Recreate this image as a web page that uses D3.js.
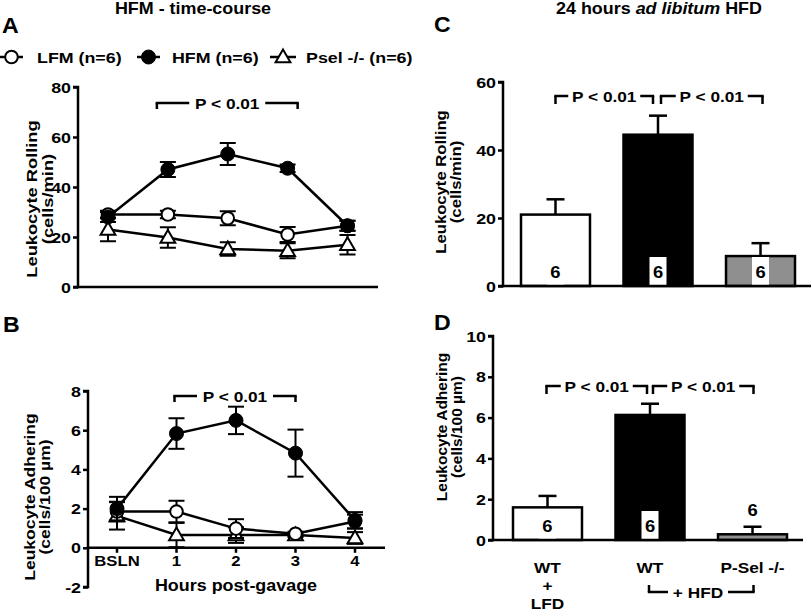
<!DOCTYPE html>
<html><head><meta charset="utf-8">
<script src="https://cdn.jsdelivr.net/npm/d3@7"></script>
<style>
html,body{margin:0;padding:0;background:#fff;}
svg text{font-family:"Liberation Sans",Arial,Helvetica,sans-serif;font-weight:bold;fill:#000;}
</style></head>
<body>
<svg id="chart" width="812" height="614"></svg>
<script>
// ---------- DATA ----------
const timeCats = ["BSLN", "1", "2", "3", "4"];
const lfmRolling = [29, 29, 27.5, 21, 24.5];
const lfmRollingErr = [1.5, 1.5, 2.8, 3, 2];
const hfmRolling = [28, 47, 53.2, 47.5, 24.5];
const hfmRollingErr = [2, 3, 4.4, 1.5, 2];
const pselRolling = [23, 19.8, 15.2, 14.5, 16.9];
const pselRollingErr = [4.7, 4.1, 2.7, 3, 3.9];

const lfmAdh = [1.85, 1.85, 0.98, 0.72, 1.34];
const lfmAdhErr = [0.5, 0.55, 0.48, 0.1, 0.35];
const hfmAdh = [2.0, 5.83, 6.5, 4.83, 1.4];
const hfmAdhErr = [0.6, 0.78, 0.7, 1.2, 0.42];
const pselAdh = [1.63, 0.65, 0.65, 0.65, 0.5];
const pselAdhErr = [0.7, 0.62, 0.4, 0.1, 0.3];

const barCats = ["WT+LFD", "WT+HFD", "P-Sel-/-+HFD"];
const barRolling = [21, 44.5, 8.8];
const barRollingErr = [4.5, 5.6, 3.8];
const barAdh = [1.6, 6.13, 0.28];
const barAdhErr = [0.56, 0.55, 0.37];
const barN = [6, 6, 6];
const barFills = ["#ffffff", "#000000", "#8f8f8f"];

const ticksA = [0, 20, 40, 60, 80];
const ticksB = [-2, 0, 2, 4, 6, 8];
const ticksC = [0, 20, 40, 60];
const ticksD = [0, 2, 4, 6, 8, 10];

const legendLabels = ["LFM (n=6)", "HFM (n=6)", "Psel -/- (n=6)"];

// ---------- HELPERS ----------
const svg = d3.select("#chart");
const SX = 1.15;
function txt(g, x, y, s, size, anchor, sx) {
  return g.append("text")
    .attr("transform", `translate(${x},${y}) scale(${sx === undefined ? SX : sx},1)`)
    .attr("text-anchor", anchor || "middle")
    .style("font-size", size + "px")
    .text(s);
}
function vlabel(g, x1, x2, yc, l1, l2, size, sx) {
  g.append("text").attr("transform", `translate(${x1},${yc}) rotate(-90) scale(${sx},1)`)
    .attr("text-anchor", "middle").style("font-size", size + "px").text(l1);
  g.append("text").attr("transform", `translate(${x2},${yc}) rotate(-90) scale(${sx},1)`)
    .attr("text-anchor", "middle").style("font-size", size + "px").text(l2);
}
function yAxis(g, x, y, ticks) {
  const ax = g.append("g").attr("transform", `translate(${x},0)`)
    .call(d3.axisLeft(y).tickValues(ticks).tickSize(5).tickPadding(3).tickFormat(d3.format("d")));
  ax.selectAll("path,line").attr("stroke", "#000").attr("stroke-width", 2.5);
  ax.select("path").attr("d", `M-5,${y(ticks[ticks.length-1])}H0V${y(ticks[0])}H-5`);
  ax.selectAll("text").remove();
  ticks.forEach(t => txt(g, x - 7, y(t) + 5.5, String(t), 15.5, "end"));
  return ax;
}
function line(g, x1, y1, x2, y2, w) {
  g.append("line").attr("x1", x1).attr("y1", y1).attr("x2", x2).attr("y2", y2)
    .attr("stroke", "#000").attr("stroke-width", w || 2.5);
}
function bracket(g, xa, xb, y, drop, label, size, gap) {
  const cx = (xa + xb) / 2;
  const hw = gap;
  line(g, xa, y + drop, xa, y); line(g, xa - 1.2, y, cx - hw, y);
  line(g, cx + hw, y, xb + 1.2, y); line(g, xb, y, xb, y + drop);
  txt(g, cx, y + 5.5, label, size, "middle");
}

const triangle = d3.symbol().type(d3.symbolTriangle).size(95);

function markers(g, kind, x, y) {
  if (kind === "open") {
    g.append("circle").attr("cx", x).attr("cy", y).attr("r", 6.3)
      .attr("fill", "#fff").attr("stroke", "#000").attr("stroke-width", 2);
  } else if (kind === "filled") {
    g.append("circle").attr("cx", x).attr("cy", y).attr("r", 7)
      .attr("fill", "#000").attr("stroke", "#000").attr("stroke-width", 1);
  } else {
    g.append("path").attr("d", triangle).attr("transform", `translate(${x},${y + 1})`)
      .attr("fill", "#fff").attr("stroke", "#000").attr("stroke-width", 2);
  }
}

function timeSeries(g, x, y, vals, errs, kind) {
  const ln = d3.line().x((d, i) => x(timeCats[i])).y(d => y(d));
  g.append("path").attr("d", ln(vals)).attr("fill", "none")
    .attr("stroke", "#000").attr("stroke-width", 2.5);
  vals.forEach((v, i) => {
    const cx = x(timeCats[i]);
    const t = y(v + errs[i]), b = y(v - errs[i]);
    line(g, cx, t, cx, b, 2);
    line(g, cx - 8, t, cx + 8, t, 2);
    line(g, cx - 8, b, cx + 8, b, 2);
  });
  vals.forEach((v, i) => markers(g, kind, x(timeCats[i]), y(v)));
}

// ---------- TITLES & PANEL LETTERS ----------
txt(svg, 193, 14, "HFM - time-course", 16, "middle", 1.12);
const t2 = svg.append("text").attr("transform", `translate(659,14) scale(1.12,1)`)
  .attr("text-anchor", "middle").style("font-size", "16px");
t2.append("tspan").text("24 hours ");
t2.append("tspan").style("font-style", "italic").text("ad libitum");
t2.append("tspan").text(" HFD");
txt(svg, 2, 33, "A", 22, "start", 1.05);
txt(svg, 3, 332, "B", 22, "start", 1.05);
txt(svg, 434, 32, "C", 22, "start", 1.05);
txt(svg, 434, 330, "D", 22, "start", 1.05);

// ---------- LEGEND ----------
const lg = svg.append("g");
[["open", 0, 23, 37], ["filled", 137, 160, 172], ["tri", 270, 296, 306]].forEach((d, i) => {
  line(lg, d[1], 57, d[2], 57, 2.5);
  markers(lg, d[0], (d[1] + d[2]) / 2, 57);
  txt(lg, d[3], 62.5, legendLabels[i], 15.5, "start");
});

// ---------- PANEL A ----------
const gA = svg.append("g");
const xA = d3.scalePoint().domain(timeCats).range([108, 347.5]);
const yA = d3.scaleLinear().domain([0, 80]).range([287, 87]);
yAxis(gA, 78, yA, ticksA);
line(gA, 76.8, yA(0), 378, yA(0));
vlabel(gA, 37, 53, 199, "Leukocyte Rolling", "(cells/min)", 15.5, 1.18);
timeSeries(gA, xA, yA, pselRolling, pselRollingErr, "tri");
timeSeries(gA, xA, yA, lfmRolling, lfmRollingErr, "open");
timeSeries(gA, xA, yA, hfmRolling, hfmRollingErr, "filled");
bracket(gA, xA("1") - 11, xA("3") + 10, 103, 6, "P < 0.01", 15, 38);

// ---------- PANEL B ----------
const gB = svg.append("g");
const xB = d3.scalePoint().domain(timeCats).range([117, 355]);
const yB = d3.scaleLinear().domain([-2, 8]).range([587, 391]);
yAxis(gB, 88, yB, ticksB);
line(gB, 86.8, yB(0), 385, yB(0));
timeCats.forEach(c => { line(gB, xB(c), yB(0), xB(c), yB(0) + 5); txt(gB, xB(c), 566, c, 14.5, "middle"); });
txt(gB, 236, 591, "Hours post-gavage", 16, "middle", 1.12);
vlabel(gB, 35, 50, 497, "Leukocyte Adhering", "(cells/100 µm)", 15.5, 1.13);
timeSeries(gB, xB, yB, pselAdh, pselAdhErr, "tri");
timeSeries(gB, xB, yB, lfmAdh, lfmAdhErr, "open");
timeSeries(gB, xB, yB, hfmAdh, hfmAdhErr, "filled");
bracket(gB, xB("1") - 2, xB("3"), 396, 6, "P < 0.01", 15, 38);

// ---------- BAR PANELS ----------
function barPanel(g, x, y, vals, errs, axisX, axisEnd, ticks) {
  yAxis(g, axisX, y, ticks);
  vals.forEach((v, i) => {
    const c = barCats[i];
    const cx = x(c) + x.bandwidth() / 2;
    const top = y(v + errs[i]);
    line(g, cx, y(v), cx, top, 2.5);
    line(g, cx - 9, top, cx + 9, top, 2.5);
    g.append("rect").attr("x", x(c)).attr("y", y(v)).attr("width", x.bandwidth())
      .attr("height", y(0) - y(v)).attr("fill", barFills[i])
      .attr("stroke", "#000").attr("stroke-width", 2.5);
    const h = y(0) - y(v);
    if (h > 25) {
      g.append("rect").attr("x", cx - 8.5).attr("y", y(0) - 29).attr("width", 17).attr("height", 28)
        .attr("fill", "#fff");
      txt(g, cx, y(0) - 8, String(barN[i]), 16, "middle");
    } else {
      txt(g, cx, top - 11, String(barN[i]), 16, "middle");
    }
  });
  line(g, axisX - 1.2, y(0), axisEnd, y(0));
}

const gC = svg.append("g");
const xC = d3.scaleBand().domain(barCats).range([521, 795]).paddingInner(0.327).paddingOuter(0);
const yC = d3.scaleLinear().domain([0, 60]).range([286, 82]);
barPanel(gC, xC, yC, barRolling, barRollingErr, 503, 811, ticksC);
vlabel(gC, 446, 461, 182, "Leukocyte Rolling", "(cells/min)", 14.5, 1.15);
const cc = c => xC(c) + xC.bandwidth() / 2;
bracket(gC, cc(barCats[0]), cc(barCats[1]) - 5, 96, 8, "P < 0.01", 15, 36);
bracket(gC, cc(barCats[1]) + 3, cc(barCats[2]) + 2, 96, 8, "P < 0.01", 15, 36);

const gD = svg.append("g");
const xD = d3.scaleBand().domain(barCats).range([513, 787]).paddingInner(0.327).paddingOuter(0);
const yD = d3.scaleLinear().domain([0, 10]).range([540, 336]);
barPanel(gD, xD, yD, barAdh, barAdhErr, 493, 803, ticksD);
vlabel(gD, 447, 462, 427, "Leukocyte Adhering", "(cells/100 µm)", 14.5, 1.07);
const cd = c => xD(c) + xD.bandwidth() / 2;
bracket(gD, cd(barCats[0]) - 1, cd(barCats[1]) - 3, 386, 8, "P < 0.01", 15, 36);
bracket(gD, cd(barCats[1]) + 3, cd(barCats[2]) + 1, 386, 8, "P < 0.01", 15, 36);
// x labels
txt(gD, cd(barCats[0]), 573, "WT", 15, "middle");
txt(gD, cd(barCats[0]), 591, "+", 15, "middle");
txt(gD, cd(barCats[0]), 609, "LFD", 15, "middle");
txt(gD, cd(barCats[1]), 573, "WT", 15, "middle");
txt(gD, cd(barCats[2]), 573, "P-Sel -/-", 15, "middle");
// + HFD bracket
const hx1 = cd(barCats[1]) - 1, hx2 = cd(barCats[2]) + 1;
line(gD, hx1, 585, hx1, 592); line(gD, hx1 - 1.2, 592, 668, 592);
line(gD, 728, 592, hx2 + 1.2, 592); line(gD, hx2, 592, hx2, 585);
txt(gD, 698, 597.5, "+ HFD", 15, "middle");
</script>
</body></html>
